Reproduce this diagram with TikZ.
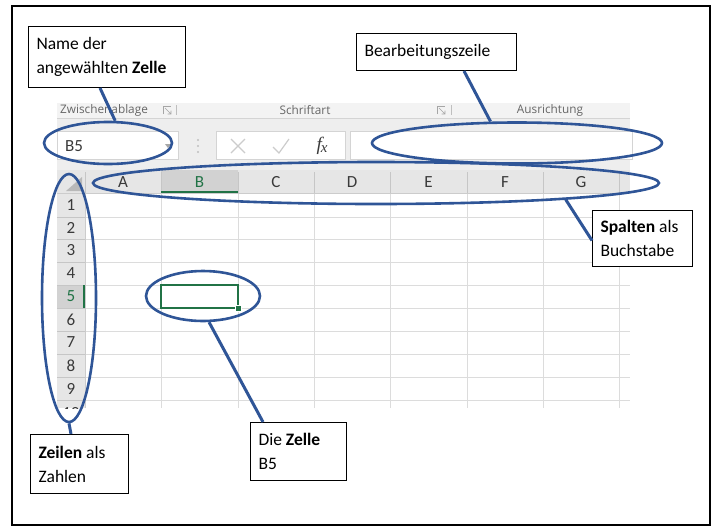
\documentclass[tikz,border=0pt]{standalone}
\usepackage{fontspec}
\setmainfont{Carlito}
\newfontfamily\uifont{Open Sans}
\newfontfamily\fxfont{Liberation Serif}
\usetikzlibrary{shapes.geometric,calc}
\definecolor{annblue}{HTML}{2F5597}
\definecolor{xlgreen}{HTML}{217346}
\definecolor{hdrgray}{HTML}{E6E6E6}
\definecolor{hdrsel}{HTML}{D2D2D2}
\definecolor{gridgray}{HTML}{DCDCDC}
\definecolor{ribbongray}{HTML}{F3F3F3}
\definecolor{bargray}{HTML}{EEEEEE}
\definecolor{boxedge}{HTML}{D4D4D4}
\definecolor{hdrtext}{HTML}{3A3A3A}
\definecolor{uitext}{HTML}{666666}
\begin{document}
\begin{tikzpicture}[x=1pt,y=-1pt,
  lbl/.style={draw=black, line width=1pt, fill=white, anchor=north west, align=flush left,
    inner xsep=8pt, inner ysep=0pt, font=\fontsize{17.5}{24}\selectfont},
  ell/.style={draw=annblue, line width=2.6pt, ellipse, inner sep=0pt},
  conn/.style={draw=annblue, line width=3pt},
  hdr/.style={font=\fontsize{17}{18}\selectfont, text=hdrtext, inner sep=0pt},
  ui/.style={font=\uifont\fontsize{11.8}{13}\selectfont, text=uitext, inner sep=0pt},
  sep/.style={draw=gray!45, line width=0.6pt},
]
\useasboundingbox (0,0) rectangle (717,528);

% ---------- Excel screenshot ----------
\fill[bargray] (57,103) rectangle (630,170);
\fill[ribbongray] (57,103) rectangle (630,118);
\draw[boxedge, line width=0.5pt] (57,118.5) -- (630,118.5);
\node[ui, anchor=west] (zw) at (60,110) {Zwischenablage};
\node[ui] (sa) at (305,110) {Schriftart};
\node[ui] (au) at (550,110) {Ausrichtung};
\draw[gray!70, line width=0.7pt] (163,114) -- (163,106) -- (171,106);
\draw[gray!70, line width=0.7pt] (165,108) -- (171,114) (171,110.5) -- (171,114) -- (167.5,114);
\draw[gray!50, line width=0.6pt] (176,105) -- (176,115);
\draw[gray!70, line width=0.7pt] (437,114) -- (437,106) -- (445,106);
\draw[gray!70, line width=0.7pt] (439,108) -- (445,114) (445,110.5) -- (445,114) -- (441.5,114);
\draw[gray!50, line width=0.6pt] (451,105) -- (451,115);

% name box
\draw[boxedge, fill=white, line width=0.8pt] (57,131) rectangle (178,159);
\node[hdr, anchor=west] (b5) at (65,146) {B5};
\fill[gray!70] (165,144) -- (171,144) -- (168,148) -- cycle;
\foreach \yy in {140,146,152} \fill[gray!50] (198,\yy) circle (1.2);
% fx box
\draw[boxedge, fill=white, line width=0.8pt] (216,131) rectangle (345,159);
\draw[gray!40, line width=1.2pt] (231,139) -- (245,153) (231,153) -- (245,139);
\draw[gray!40, line width=1.2pt] (273,147) -- (279,153) -- (289,139);
\node[inner sep=0pt, text=hdrtext] (fx) at (322,146) {\fxfont\itshape\fontsize{19}{19}\selectfont f\kern-1pt\raisebox{-1.5pt}{\fontsize{15}{15}\selectfont x}};
% formula input
\draw[boxedge, fill=white, line width=0.8pt] (350,131) rectangle (632,159);

% headers and grid
\fill[white] (85,193) rectangle (630,408);
\fill[hdrgray] (57,170) rectangle (630,193);
\fill[hdrgray] (57,193) rectangle (85,408);
\fill[hdrsel] (161,170) rectangle (238,193);
\fill[hdrsel] (57,285) rectangle (85,308);
\foreach \x in {161,238,314,390,467,543,619} \draw[gridgray, line width=0.8pt] (\x,193) -- (\x,408);
\foreach \y in {217,239,262,285,308,331,354,377,400} \draw[gridgray, line width=0.8pt] (85,\y) -- (630,\y);
\foreach \x in {85,161,238,314,390,467,543,619} \draw[sep] (\x,172) -- (\x,193);
\foreach \y in {217,239,262,285,308,331,354,377,400} \draw[sep] (57,\y) -- (85,\y);
\draw[gray!40, line width=0.6pt] (57,193) -- (630,193);
\draw[gray!40, line width=0.6pt] (85,193) -- (85,408);
\draw[xlgreen, line width=2pt] (161,192) -- (238,192);
\draw[xlgreen, line width=2pt] (84,285) -- (84,308);
\fill[gray!55] (82,177) -- (82,191) -- (66,191) -- cycle;

\foreach \c/\x in {A/123,C/276,D/352,E/428.5,F/505,G/581}
  \node[hdr] (col\c) at (\x,182) {\c};
\node[hdr, text=xlgreen] (colB) at (199.5,182) {B};
\foreach \r/\y in {1/205,2/228,3/250.5,4/273.5,6/319.5,7/342.5,8/365.5,9/388.5}
  \node[hdr] (row\r) at (71,\y) {\r};
\node[hdr, text=xlgreen] (row5) at (71,296.5) {5};
\begin{scope}
  \clip (57,402) rectangle (85,408);
  \node[hdr] (row10) at (71,413) {10};
\end{scope}

% selected cell
\draw[xlgreen, line width=2pt] (161,285) rectangle (238,308);
\fill[white] (234.5,304.5) rectangle (242,312);
\fill[xlgreen] (236,306) rectangle (241,311);

% ---------- annotations ----------
\node[ell, minimum width=128pt, minimum height=42pt] (eName) at (108,143) {};
\node[ell, minimum width=290pt, minimum height=41pt] (eForm) at (517,143) {};
\node[ell, minimum width=566pt, minimum height=42pt] (eCol) at (376,183) {};
\node[ell, minimum width=54pt, minimum height=248pt] (eRow) at (69,298) {};
\node[ell, minimum width=114pt, minimum height=50pt] (eCell) at (203,296) {};

\node[lbl, text width=141pt, minimum height=61pt] (nameL) at (28,26) {Name der\\angewählten \textbf{Zelle}};
\node[lbl, text width=144pt, minimum height=37pt] (bearb) at (356,33) {Bearbeitungszeile};
\node[lbl, text width=84pt, minimum height=56pt] (spal) at (592,210) {\textbf{Spalten} als\\Buchstabe};
\node[lbl, text width=82pt, minimum height=59pt] (zeil) at (30,434) {\textbf{Zeilen} als\\Zahlen};
\node[lbl, text width=80pt, minimum height=58pt] (zelle) at (250,422) {Die \textbf{Zelle}\\B5};

\draw[conn] ([xshift=72pt]nameL.south west) -- (eName.72);
\draw[conn] ([xshift=108pt]bearb.south west) -- (eForm.141);
\draw[conn] (eCol.-5) -- ([yshift=-2pt]spal.west);
\draw[conn] (eRow.south) -- ([xshift=41pt]zeil.north west);
\draw[conn] (eCell.-77) -- ([xshift=13pt]zelle.north west);

% outer frame
\draw[line width=1.6pt] (12,6) rectangle (710,525);
\end{tikzpicture}
\end{document}
